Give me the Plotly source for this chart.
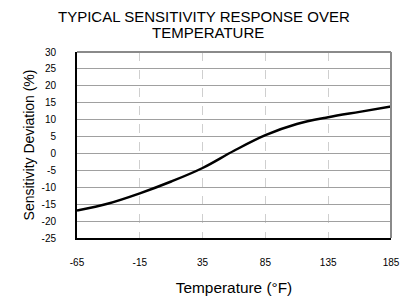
import plotly.graph_objects as go

temperature_f = [-65, -40, -15, 10, 35, 60, 85, 110, 135, 160, 185]
sensitivity_dev = [-16.9, -14.8, -11.8, -8.3, -4.3, 0.8, 5.4, 8.7, 10.7, 12.3, 13.9]
x_ticks = [-65, -15, 35, 85, 135, 185]
y_ticks = list(range(-25, 31, 5))
title_lines = ["TYPICAL SENSITIVITY RESPONSE OVER", "TEMPERATURE"]

fig = go.Figure()
fig.add_trace(go.Scatter(
    x=temperature_f, y=sensitivity_dev, mode="lines",
    line=dict(color="black", width=2.5, shape="spline", smoothing=1.0),
    showlegend=False, hoverinfo="skip"))

font = "Liberation Sans, Arial, sans-serif"
fig.update_layout(
    width=405, height=288,
    margin=dict(l=69, r=22, t=44, b=58),
    paper_bgcolor="white", plot_bgcolor="white",
    font=dict(family=font, color="black"),
    xaxis=dict(range=[-65, 185], tickvals=x_ticks, ticktext=[str(v) for v in x_ticks],
               showgrid=True, gridcolor="#cfcfcf", griddash="dash", gridwidth=1,
               showline=True, linecolor="black", linewidth=2,
               zeroline=False, ticks="", ticklabelstandoff=14, automargin=False,
               tickfont=dict(size=10, family=font),
               title=dict(text="Temperature (°F)", standoff=21, font=dict(size=15.4, family=font))),
    yaxis=dict(range=[-25, 30], tickvals=y_ticks, ticktext=[str(v) for v in y_ticks],
               showgrid=True, gridcolor="#a0a0a0", gridwidth=1,
               showline=True, linecolor="black", linewidth=2,
               zeroline=False, ticks="", ticklabelstandoff=17, automargin=False,
               tickfont=dict(size=10, family=font),
               title=dict(text="Sensitivity Deviation (%)", standoff=4, font=dict(size=14, family=font))),
    shapes=[
        dict(type="line", xref="paper", yref="paper", x0=0, x1=1, y0=1, y1=1,
             line=dict(color="#8a8a8a", width=2)),
        dict(type="line", xref="paper", yref="paper", x0=1, x1=1, y0=0, y1=1,
             line=dict(color="#8a8a8a", width=2)),
    ],
    annotations=[
        dict(text=title_lines[0], xref="paper", yref="paper", x=0.406, y=1.19,
             xanchor="center", yanchor="middle", showarrow=False,
             font=dict(size=15, family=font, color="black")),
        dict(text=title_lines[1], xref="paper", yref="paper", x=0.416, y=1.105,
             xanchor="center", yanchor="middle", showarrow=False,
             font=dict(size=15, family=font, color="black")),
    ],
)

fig.write_html("out.html")
